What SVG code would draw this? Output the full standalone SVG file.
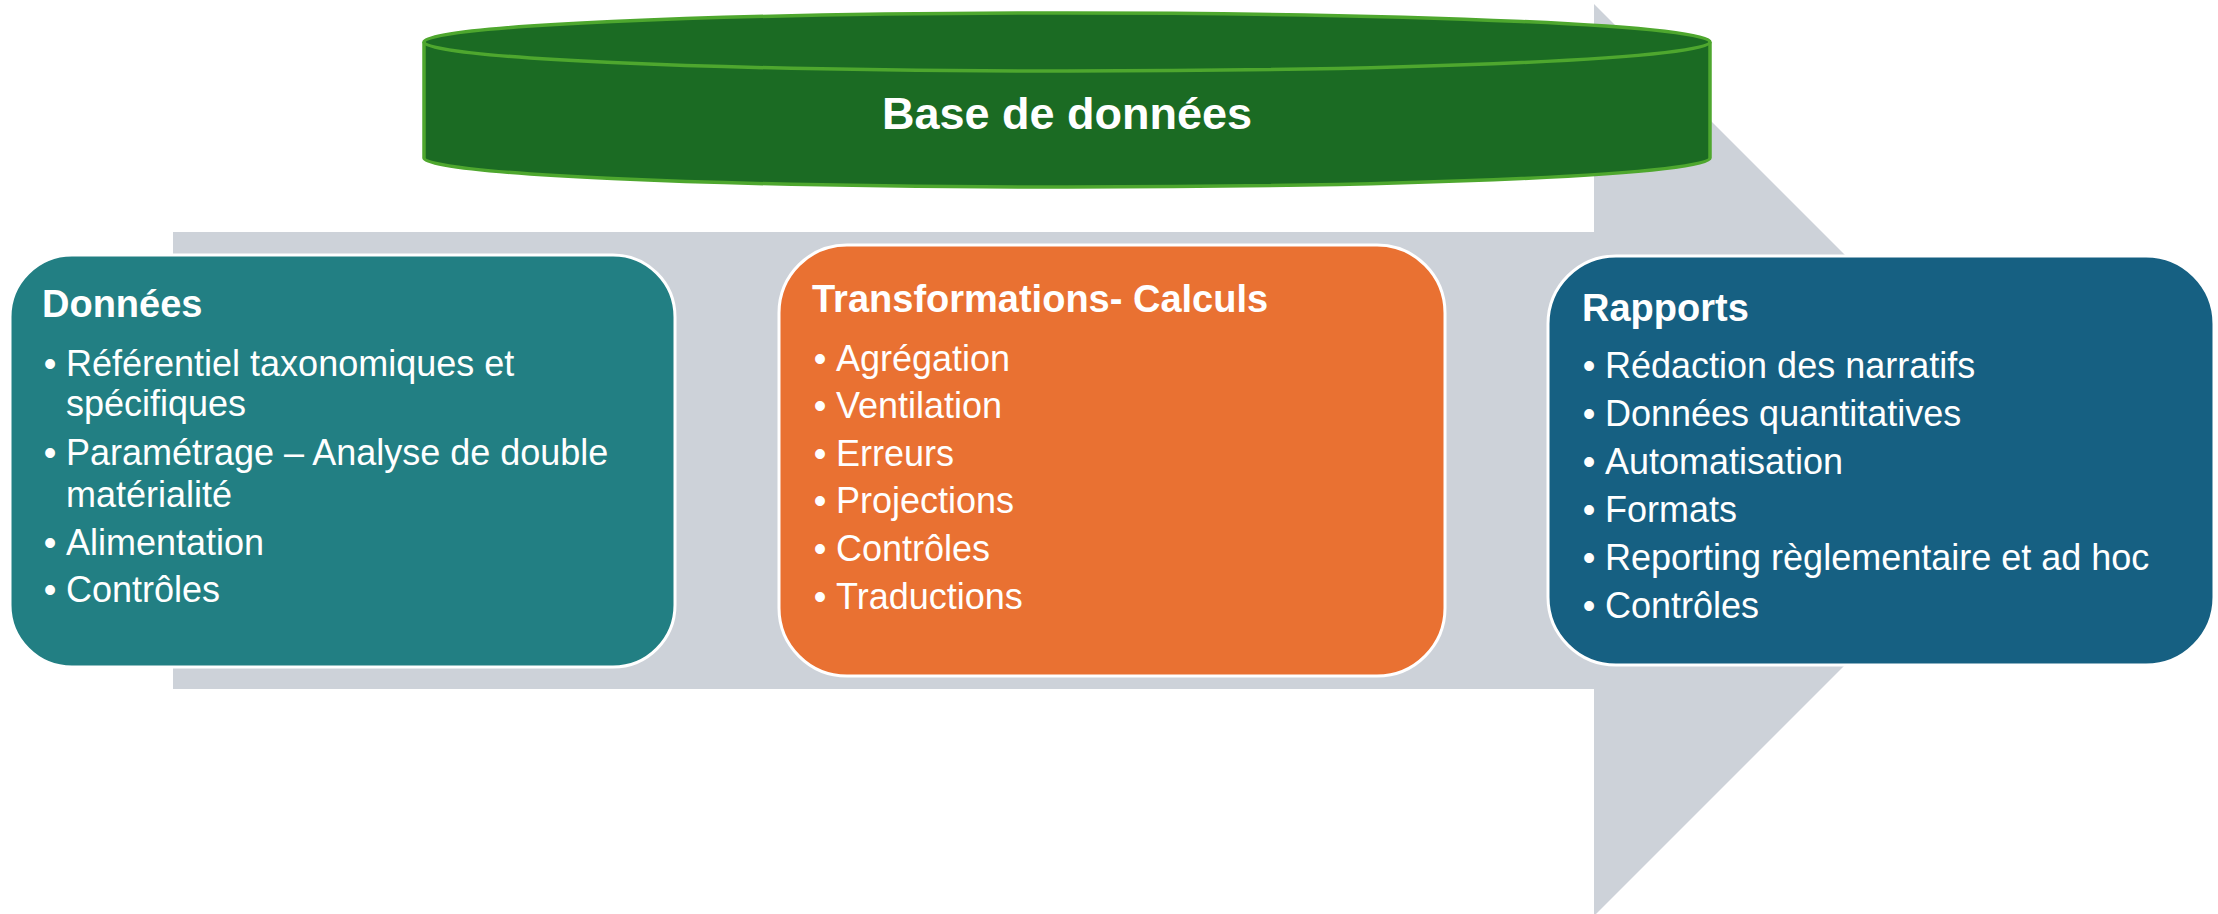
<svg xmlns="http://www.w3.org/2000/svg" width="2218" height="914" viewBox="0 0 2218 914">
<style>
.t{font-family:"Liberation Sans",Arial,sans-serif;fill:#ffffff}
.h{font-size:38px;font-weight:bold}
.b{font-size:36px}
.box{stroke:#ffffff;stroke-width:3}
</style>
<rect width="2218" height="914" fill="#ffffff"/>
<g id="connectors">
<path d="M173,232 H1594 V4 L2050,460 L1594,916 V689 H173 Z" fill="#CDD2D9"/>
</g>
<g id="database">
<path d="M424,42 V158 A643,29 0 0 0 1710,158 V42 A643,29 0 0 0 424,42 Z" fill="#1B6B23" stroke="#4EA72E" stroke-width="3.5"/>
<path d="M424,42 A643,29 0 0 0 1710,42" fill="none" stroke="#4EA72E" stroke-width="3.5"/>
<text class="t" x="1067" y="129" font-size="45" font-weight="bold" text-anchor="middle">Base de données</text>
</g>
<g id="donnees">
<rect class="box" x="10" y="255" width="665" height="412" rx="62" ry="62" fill="#227F83"/>
<text class="t h" x="42" y="317">Données</text>
<text class="t b" text-anchor="middle"><tspan x="50" y="376">•</tspan><tspan x="50" y="465">•</tspan><tspan x="50" y="555">•</tspan><tspan x="50" y="602">•</tspan></text>
<text class="t b"><tspan x="66" y="376">Référentiel taxonomiques et</tspan><tspan x="66" y="416">spécifiques</tspan><tspan x="66" y="465">Paramétrage – Analyse de double</tspan><tspan x="66" y="507">matérialité</tspan><tspan x="66" y="555">Alimentation</tspan><tspan x="66" y="602">Contrôles</tspan></text>
</g>
<g id="transformations">
<rect class="box" x="779" y="245" width="666" height="431" rx="68" ry="68" fill="#E97132"/>
<text class="t h" x="812" y="312">Transformations- Calculs</text>
<text class="t b" text-anchor="middle"><tspan x="820" y="371">•</tspan><tspan x="820" y="418">•</tspan><tspan x="820" y="466">•</tspan><tspan x="820" y="513">•</tspan><tspan x="820" y="561">•</tspan><tspan x="820" y="609">•</tspan></text>
<text class="t b"><tspan x="836" y="371">Agrégation</tspan><tspan x="836" y="418">Ventilation</tspan><tspan x="836" y="466">Erreurs</tspan><tspan x="836" y="513">Projections</tspan><tspan x="836" y="561">Contrôles</tspan><tspan x="836" y="609">Traductions</tspan></text>
</g>
<g id="rapports">
<rect class="box" x="1548" y="256" width="666" height="409" rx="68" ry="68" fill="#166082"/>
<text class="t h" x="1582" y="321">Rapports</text>
<text class="t b" text-anchor="middle"><tspan x="1589" y="378">•</tspan><tspan x="1589" y="426">•</tspan><tspan x="1589" y="474">•</tspan><tspan x="1589" y="522">•</tspan><tspan x="1589" y="570">•</tspan><tspan x="1589" y="618">•</tspan></text>
<text class="t b"><tspan x="1605" y="378">Rédaction des narratifs</tspan><tspan x="1605" y="426">Données quantitatives</tspan><tspan x="1605" y="474">Automatisation</tspan><tspan x="1605" y="522">Formats</tspan><tspan x="1605" y="570">Reporting règlementaire et ad hoc</tspan><tspan x="1605" y="618">Contrôles</tspan></text>
</g>
</svg>
